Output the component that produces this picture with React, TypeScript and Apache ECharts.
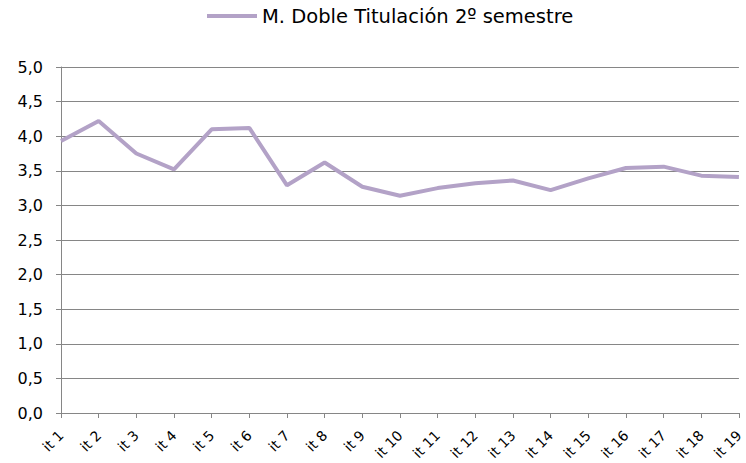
import React, { useEffect, useRef } from "react";
import * as echarts from "echarts";

const categories = ["it 1","it 2","it 3","it 4","it 5","it 6","it 7","it 8","it 9","it 10","it 11","it 12","it 13","it 14","it 15","it 16","it 17","it 18","it 19"];
const seriesName = "M. Doble Titulación 2º semestre";
const values = [3.93, 4.22, 3.75, 3.52, 4.10, 4.12, 3.29, 3.62, 3.27, 3.14, 3.25, 3.32, 3.36, 3.22, 3.39, 3.54, 3.56, 3.43, 3.41];

export default function App() {
  const ref = useRef<HTMLDivElement>(null);
  useEffect(() => {
    document.body.style.margin = "0";
    const chart = echarts.init(ref.current!, null, { renderer: "svg" });
    const font = "'DejaVu Sans', sans-serif";
    chart.setOption({
      animation: false,
      textStyle: { fontFamily: font },
      legend: {
        top: 6,
        left: 207,
        padding: 0,
        itemWidth: 50,
        itemHeight: 4,
        itemGap: 6,
        icon: "rect",
        data: [seriesName],
        textStyle: { fontSize: 19.5, color: "#000", fontFamily: font },
      },
      grid: { left: 61, right: 6, top: 67, bottom: 50, containLabel: false },
      xAxis: {
        type: "category",
        data: categories,
        boundaryGap: false,
        axisLine: { lineStyle: { color: "#868686", width: 1 } },
        axisTick: { alignWithLabel: true, length: 5, lineStyle: { color: "#868686" } },
        axisLabel: { rotate: 45, fontSize: 14, color: "#000", margin: 20, fontFamily: font, interval: 0 },
        splitLine: { show: false },
      },
      yAxis: {
        type: "value",
        min: 0,
        max: 5,
        interval: 0.5,
        axisLine: { show: true, lineStyle: { color: "#868686", width: 1 } },
        axisTick: { show: true, length: 5, lineStyle: { color: "#868686" } },
        axisLabel: {
          fontSize: 16,
          color: "#000",
          margin: 18,
          fontFamily: font,
          formatter: (v: number) => v.toFixed(1).replace(".", ","),
        },
        splitLine: { lineStyle: { color: "#868686", width: 1 } },
      },
      series: [
        {
          name: seriesName,
          type: "line",
          data: values,
          symbol: "none",
          lineStyle: { color: "#b3a2c7", width: 4 },
          itemStyle: { color: "#b3a2c7" },
        },
      ],
    });
    return () => chart.dispose();
  }, []);
  return <div ref={ref} style={{ width: 746, height: 463 }} />;
}
